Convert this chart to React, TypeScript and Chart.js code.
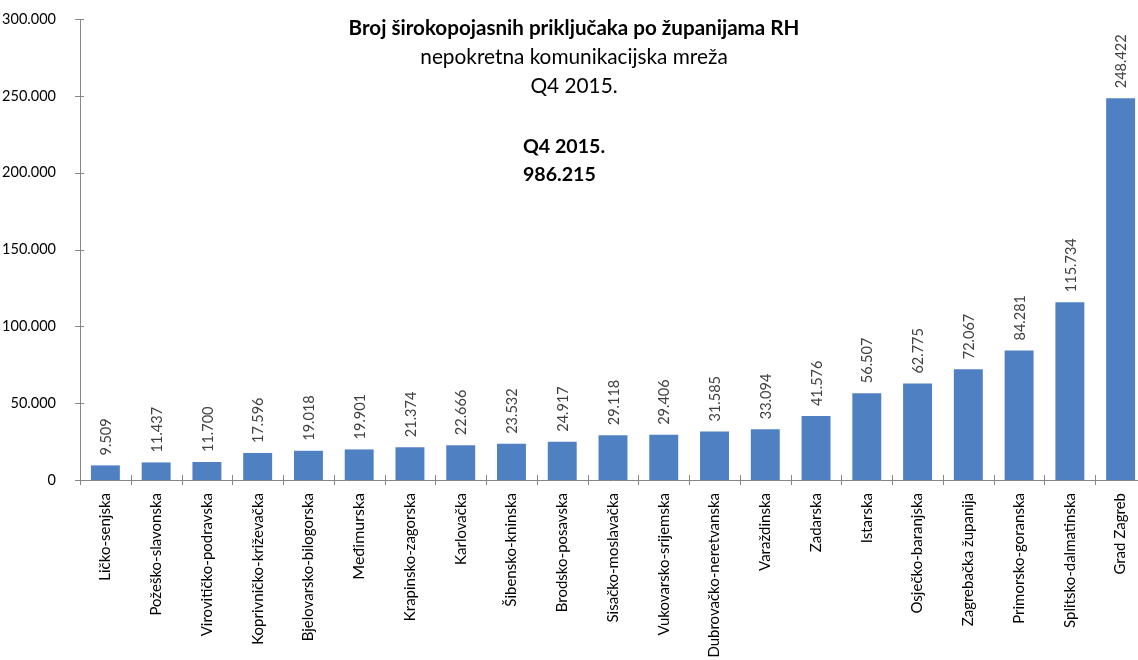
import React, { useEffect, useRef } from "react";
import { Chart, registerables } from "chart.js";

Chart.register(...registerables);

const categories = [
  "Ličko-senjska",
  "Požeško-slavonska",
  "Virovitičko-podravska",
  "Koprivničko-križevačka",
  "Bjelovarsko-bilogorska",
  "Međimurska",
  "Krapinsko-zagorska",
  "Karlovačka",
  "Šibensko-kninska",
  "Brodsko-posavska",
  "Sisačko-moslavačka",
  "Vukovarsko-srijemska",
  "Dubrovačko-neretvanska",
  "Varaždinska",
  "Zadarska",
  "Istarska",
  "Osječko-baranjska",
  "Zagrebačka županija",
  "Primorsko-goranska",
  "Splitsko-dalmatinska",
  "Grad Zagreb",
];

const values = [
  9509, 11437, 11700, 17596, 19018, 19901, 21374, 22666, 23532, 24917, 29118,
  29406, 31585, 33094, 41576, 56507, 62775, 72067, 84281, 115734, 248422,
];

const yTicks = [0, 50000, 100000, 150000, 200000, 250000, 300000];

const titleMain = "Broj širokopojasnih priključaka po županijama RH";
const subtitleLines = ["nepokretna komunikacijska mreža", "Q4 2015."];
const totalLines = ["Q4 2015.", "986.215"];

const FONT = "Lato, 'Open Sans', sans-serif";
const AXIS_COLOR = "#868686";
const BAR_COLOR = "#4f81c2";

function fmt(n: number): string {
  return String(Math.round(n)).replace(/\B(?=(\d{3})+(?!\d))/g, ".");
}

const overlayPlugin = {
  id: "overlay",
  afterDatasetsDraw(chart: any) {
    const ctx = chart.ctx as CanvasRenderingContext2D;
    const xs = chart.scales.x;
    const ys = chart.scales.y;
    const meta = chart.getDatasetMeta(0);

    // value labels
    ctx.save();
    ctx.fillStyle = "#404040";
    ctx.font = `14.5px ${FONT}`;
    meta.data.forEach((bar: any, i: number) => {
      ctx.save();
      ctx.translate(bar.x + 1, bar.y - 10);
      ctx.rotate(-Math.PI / 2);
      ctx.textAlign = "left";
      ctx.textBaseline = "middle";
      ctx.fillText(fmt(values[i]), 0, 0);
      ctx.restore();
    });
    ctx.restore();

    // tick marks crossing axes
    ctx.save();
    ctx.strokeStyle = AXIS_COLOR;
    ctx.lineWidth = 1;
    const axisY = ys.getPixelForValue(0);
    for (let i = 0; i <= categories.length; i++) {
      const px = Math.round(xs.getPixelForValue(i - 0.5)) + 0.5;
      ctx.beginPath();
      ctx.moveTo(px, axisY - 5);
      ctx.lineTo(px, axisY + 5);
      ctx.stroke();
    }
    const axisX = xs.left;
    yTicks.forEach((v) => {
      const py = Math.round(ys.getPixelForValue(v)) + 0.5;
      ctx.beginPath();
      ctx.moveTo(axisX - 5, py);
      ctx.lineTo(axisX + 4, py);
      ctx.stroke();
    });
    ctx.restore();

    // title block
    ctx.save();
    ctx.fillStyle = "#000000";
    ctx.textBaseline = "middle";
    ctx.textAlign = "center";
    const cx = 574;
    ctx.font = `bold 20.6px ${FONT}`;
    ctx.fillText(titleMain, cx, 28);
    ctx.font = `20.8px ${FONT}`;
    ctx.fillText(subtitleLines[0], cx, 57);
    ctx.fillText(subtitleLines[1], cx, 86);
    ctx.textAlign = "left";
    ctx.font = `bold 19.6px ${FONT}`;
    ctx.fillText(totalLines[0], 523, 147);
    ctx.fillText(totalLines[1], 523, 175);
    ctx.restore();
  },
};

const CANVAS_W = 1150;
const CANVAS_H = 700;
const AXIS_BOTTOM = 480;

export default function App() {
  const ref = useRef<HTMLCanvasElement | null>(null);

  useEffect(() => {
    if (!ref.current) return;
    const chart = new Chart(ref.current, {
      type: "bar",
      data: {
        labels: categories,
        datasets: [
          {
            data: values,
            backgroundColor: BAR_COLOR,
            barPercentage: 0.57,
            categoryPercentage: 1,
          },
        ],
      },
      options: {
        animation: false,
        responsive: false,
        maintainAspectRatio: false,
        layout: { padding: { top: 19, left: 0, right: 4, bottom: 0 } },
        plugins: {
          legend: { display: false },
          tooltip: { enabled: false },
          title: { display: false },
        },
        scales: {
          x: {
            offset: true,
            grid: { display: false },
            border: { display: true, color: AXIS_COLOR, width: 1 },
            ticks: {
              autoSkip: false,
              minRotation: 90,
              maxRotation: 90,
              padding: 5,
              color: "#000000",
              font: (c: any) =>
                c.index === 5
                  ? { family: FONT, size: 16 }
                  : { family: FONT, size: 15 },
            },
            afterFit: (scale: any) => {
              scale.height = CANVAS_H - AXIS_BOTTOM;
            },
          },
          y: {
            min: 0,
            max: 300000,
            grid: { display: false },
            border: { display: true, color: AXIS_COLOR, width: 1 },
            ticks: {
              stepSize: 50000,
              padding: 16,
              color: "#000000",
              font: { family: FONT, size: 14.5 },
              callback: (v: any) => fmt(Number(v)),
            },
            afterFit: (scale: any) => {
              scale.width = 80;
              scale.paddingTop = 0;
              scale.paddingBottom = 0;
            },
          },
        },
      },
      plugins: [overlayPlugin],
    });
    return () => chart.destroy();
  }, []);

  return (
    <div
      style={{
        position: "fixed",
        left: 0,
        top: 0,
        width: 1138,
        height: 660,
        overflow: "hidden",
        background: "#ffffff",
      }}
    >
      <canvas
        ref={ref}
        width={CANVAS_W}
        height={CANVAS_H}
        style={{ display: "block", width: CANVAS_W, height: CANVAS_H }}
      />
    </div>
  );
}
